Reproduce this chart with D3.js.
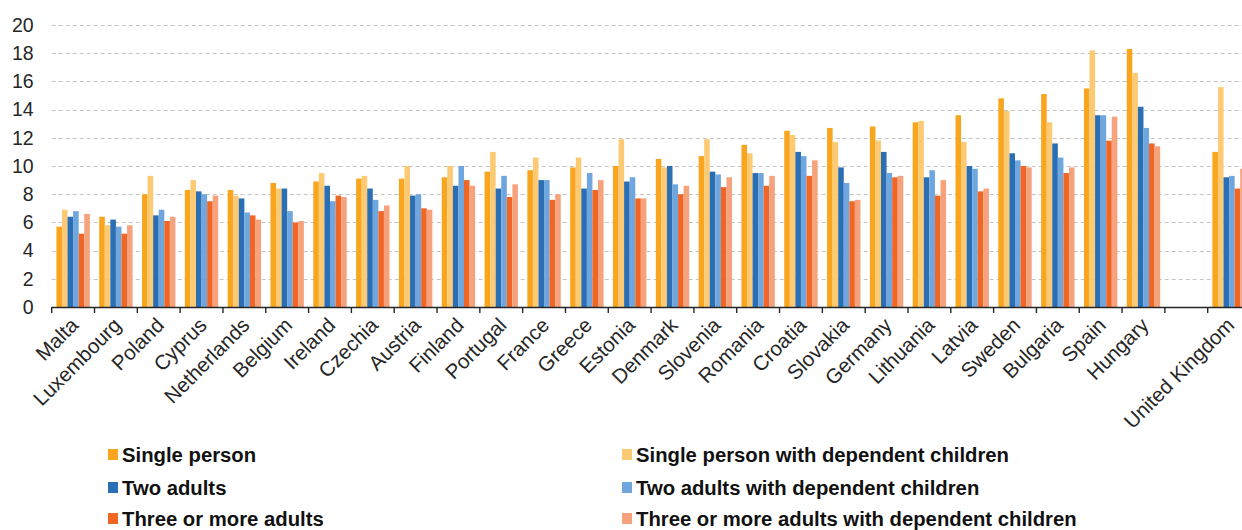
<!DOCTYPE html>
<html>
<head>
<meta charset="utf-8">
<script src="https://cdn.jsdelivr.net/npm/d3@7"></script>
<style>
  html, body { margin: 0; padding: 0; background: #fff; }
  svg { display: block; font-family: "Liberation Sans", Arial, sans-serif; }
</style>
</head>
<body>
<svg id="chart" width="1242" height="530"></svg>
<script>
// Countries (an empty slot separates the United Kingdom from the EU members)
const categories = ["Malta", "Luxembourg", "Poland", "Cyprus", "Netherlands", "Belgium", "Ireland",
  "Czechia", "Austria", "Finland", "Portugal", "France", "Greece", "Estonia", "Denmark", "Slovenia",
  "Romania", "Croatia", "Slovakia", "Germany", "Lithuania", "Latvia", "Sweden", "Bulgaria", "Spain",
  "Hungary", "", "United Kingdom"];

const seriesNames = ["Single person", "Single person with dependent children", "Two adults",
  "Two adults with dependent children", "Three or more adults", "Three or more adults with dependent children"];

const singlePerson          = [5.7, 6.4, 8.0, 8.3, 8.3, 8.8, 8.9, 9.1, 9.1, 9.2, 9.6, 9.7, 9.9, 10.0, 10.5, 10.7, 11.5, 12.5, 12.7, 12.8, 13.1, 13.6, 14.8, 15.1, 15.5, 18.3, null, 11.0];
const singleWithChildren    = [6.9, 5.8, 9.3, 9.0, 7.9, 8.4, 9.5, 9.3, 10.0, 10.0, 11.0, 10.6, 10.6, 11.9, 9.9, 11.9, 10.9, 12.2, 11.7, 11.8, 13.2, 11.7, 13.9, 13.1, 18.2, 16.6, null, 15.6];
const twoAdults             = [6.4, 6.2, 6.5, 8.2, 7.7, 8.4, 8.6, 8.4, 7.9, 8.6, 8.4, 9.0, 8.4, 8.9, 10.0, 9.6, 9.5, 11.0, 9.9, 11.0, 9.2, 10.0, 10.9, 11.6, 13.6, 14.2, null, 9.2];
const twoAdultsWithChildren = [6.8, 5.7, 6.9, 8.0, 6.7, 6.8, 7.5, 7.6, 8.0, 10.0, 9.3, 9.0, 9.5, 9.2, 8.7, 9.4, 9.5, 10.7, 8.8, 9.5, 9.7, 9.8, 10.4, 10.6, 13.6, 12.7, null, 9.3];
const threeAdults           = [5.2, 5.2, 6.1, 7.5, 6.5, 6.0, 7.9, 6.8, 7.0, 9.0, 7.8, 7.6, 8.3, 7.7, 8.0, 8.5, 8.6, 9.3, 7.5, 9.2, 7.9, 8.2, 10.0, 9.5, 11.8, 11.6, null, 8.4];
const threeWithChildren     = [6.6, 5.8, 6.4, 7.9, 6.2, 6.1, 7.8, 7.2, 6.9, 8.6, 8.7, 8.0, 9.0, 7.7, 8.6, 9.2, 9.3, 10.4, 7.6, 9.3, 9.0, 8.4, 9.9, 9.9, 13.5, 11.4, null, 9.8];

const yTicks = [0, 2, 4, 6, 8, 10, 12, 14, 16, 18, 20];

const seriesValues = [singlePerson, singleWithChildren, twoAdults, twoAdultsWithChildren, threeAdults, threeWithChildren];
const colors = ["#F9A51E", "#FDCA74", "#2A6EB3", "#70A6DE", "#F06625", "#F6A27D"];

const svg = d3.select("#chart");

// Plot geometry
const plotLeft = 51.7, plotRight = 1250.5, plotTop = 25, plotBottom = 307;

const x = d3.scaleBand()
  .domain(d3.range(categories.length))
  .range([plotLeft, plotRight])
  .paddingInner(0.22)
  .paddingOuter(0.11);

const x1 = d3.scaleBand()
  .domain(d3.range(seriesNames.length))
  .range([0, x.bandwidth()]);

const y = d3.scaleLinear().domain([0, 20]).range([plotBottom, plotTop]);

// Dashed horizontal gridlines
svg.append("g")
  .selectAll("line")
  .data(yTicks.filter(t => t > 0))
  .join("line")
  .attr("x1", plotLeft).attr("x2", 1242)
  .attr("y1", d => Math.round(y(d)) + 0.5).attr("y2", d => Math.round(y(d)) + 0.5)
  .attr("stroke", "#c4c4c4")
  .attr("stroke-width", 1.2)
  .attr("stroke-dasharray", "4,3");

// Y axis labels
const yAxis = d3.axisLeft(y).tickValues(yTicks).tickSize(0).tickPadding(0);
svg.append("g")
  .attr("transform", `translate(${plotLeft - 18},0)`)
  .call(yAxis)
  .call(g => g.select(".domain").remove())
  .call(g => g.selectAll("text")
    .attr("fill", "#262626")
    .style("font-size", "19.5px")
    .style("font-family", "'Liberation Sans', Arial, sans-serif"));

// Bars
const groups = svg.append("g")
  .selectAll("g")
  .data(categories.map((c, i) => i))
  .join("g")
  .attr("transform", i => `translate(${x(i)},0)`);

groups.selectAll("rect")
  .data(i => seriesValues.map((vals, s) => ({ s, v: vals[i] })).filter(d => d.v != null))
  .join("rect")
  .attr("x", d => x1(d.s))
  .attr("width", x1.bandwidth())
  .attr("y", d => y(d.v))
  .attr("height", d => y(0) - y(d.v))
  .attr("fill", d => colors[d.s]);

// X axis line with boundary ticks between categories
const step = x.step();
const boundaries = d3.range(categories.length + 1).map(i => x(0) - x.paddingOuter() * step + i * step);
svg.append("line")
  .attr("x1", plotLeft).attr("x2", 1242)
  .attr("y1", plotBottom + 0.5).attr("y2", plotBottom + 0.5)
  .attr("stroke", "#262626").attr("stroke-width", 1.6);
svg.append("g")
  .selectAll("line")
  .data(boundaries)
  .join("line")
  .attr("x1", d => d).attr("x2", d => d)
  .attr("y1", plotBottom).attr("y2", plotBottom + 6)
  .attr("stroke", "#262626").attr("stroke-width", 1.4);

// Rotated category labels, right-middle of each label at its category centre
svg.append("g")
  .selectAll("text")
  .data(categories.map((c, i) => ({ c, i })).filter(d => d.c))
  .join("text")
  .attr("transform", d => `translate(${x(d.i) + x.bandwidth() / 2 + 1},${plotBottom + 14}) rotate(-45)`)
  .attr("dy", "0.38em")
  .attr("text-anchor", "end")
  .attr("fill", "#262626")
  .style("font-size", "20.5px")
  .text(d => d.c);

// Legend: two columns, three rows
const legendCols = [108, 622];
const legendRows = [455, 488, 519];
const legend = svg.append("g")
  .selectAll("g")
  .data(seriesNames.map((name, s) => ({ name, s })))
  .join("g")
  .attr("transform", d => `translate(${legendCols[d.s % 2]},${legendRows[Math.floor(d.s / 2)]})`);
legend.append("rect")
  .attr("x", 0).attr("y", -6).attr("width", 10).attr("height", 11)
  .attr("fill", d => colors[d.s]);
legend.append("text")
  .attr("x", 14).attr("y", 7)
  .attr("fill", "#111")
  .style("font-size", "20.3px")
  .style("font-weight", "bold")
  .text(d => d.name);
</script>
</body>
</html>
